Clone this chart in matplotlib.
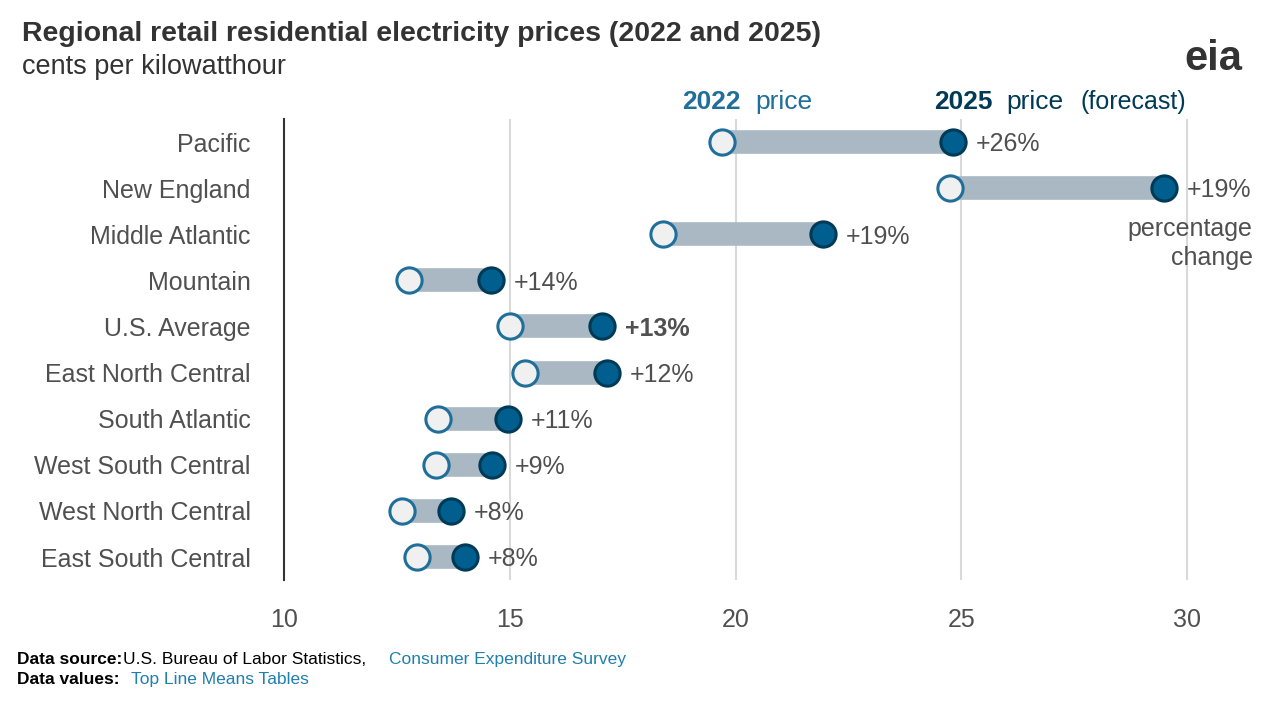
import matplotlib.pyplot as plt

regions = ["Pacific", "New England", "Middle Atlantic", "Mountain", "U.S. Average",
           "East North Central", "South Atlantic", "West South Central",
           "West North Central", "East South Central"]
price_2022 = [19.71, 24.74, 18.40, 12.77, 15.01, 15.34, 13.41, 13.37, 12.62, 12.95]
price_2025 = [24.81, 29.49, 21.93, 14.59, 17.05, 17.16, 14.97, 14.61, 13.70, 14.01]
changes = ["+26%", "+19%", "+19%", "+14%", "+13%", "+12%", "+11%", "+9%", "+8%", "+8%"]
xticks = [10, 15, 20, 25, 30]

plt.rcParams['font.family'] = ['Liberation Sans', 'DejaVu Sans']
grey = "#505050"
fig = plt.figure(figsize=(12.71, 7.04), dpi=100)
ax = fig.add_axes([0.2234, 0.176, 0.764, 0.655])

for x in xticks[1:]:
    ax.axvline(x, color="#d9d9d9", lw=1.5, zorder=0)

for i, (a, b, c) in enumerate(zip(price_2022, price_2025, changes)):
    ax.plot([a, b], [i, i], color="#a9b8c2", lw=17, solid_capstyle="butt", zorder=1)
    ax.scatter(a, i, s=330, facecolor="#f0f0f0", edgecolor="#1f6f9a", lw=2.2, zorder=3)
    ax.scatter(b, i, s=330, facecolor="#005f8f", edgecolor="#003a56", lw=2.2, zorder=3)
    ax.text(b + 0.5, i + 0.05, c, va="center", ha="left", fontsize=18, color=grey,
            fontweight="bold" if regions[i] == "U.S. Average" else "normal")

ax.set_xlim(10, 31.5)
ax.set_ylim(9.5, -0.5)
ax.set_yticks(range(len(regions)))
ax.set_yticklabels(regions, fontsize=18, color=grey)
ax.set_xticks(xticks)
ax.set_xticklabels([str(t) for t in xticks], fontsize=18, color=grey)
ax.tick_params(length=0, pad=20)
ax.tick_params(axis="y", pad=24)
for s in ["top", "right", "bottom"]:
    ax.spines[s].set_visible(False)
ax.spines["left"].set_color("#333333")
ax.spines["left"].set_linewidth(1.5)

ax.text(31.45, 2.2, "percentage\nchange", ha="right", va="center", fontsize=18,
        color=grey, linespacing=1.3)

hy = 0.845
fig.text(0.537, hy, "2022", fontsize=19, fontweight="bold", color="#1f6f9a")
fig.text(0.594, hy, "price", fontsize=19, color="#1f6f9a")
fig.text(0.735, hy, "2025", fontsize=19, fontweight="bold", color="#003a56")
fig.text(0.792, hy, "price", fontsize=19, color="#003a56")
fig.text(0.850, hy, "(forecast)", fontsize=18, color="#003a56")

fig.text(0.017, 0.942, "Regional retail residential electricity prices (2022 and 2025)",
         fontsize=20.5, fontweight="bold", color="#333333")
fig.text(0.017, 0.895, "cents per kilowatthour", fontsize=19.5, color="#333333")
fig.text(0.932, 0.900, "eia", fontsize=30, fontweight="bold", color="#333333")

fig.text(0.013, 0.057, "Data source:", fontsize=12.5, fontweight="bold", color="black")
fig.text(0.097, 0.057, "U.S. Bureau of Labor Statistics,", fontsize=12.5, color="black")
fig.text(0.306, 0.057, "Consumer Expenditure Survey", fontsize=12.5, color="#1f7fae")
fig.text(0.013, 0.029, "Data values:", fontsize=12.5, fontweight="bold", color="black")
fig.text(0.103, 0.029, "Top Line Means Tables", fontsize=12.5, color="#1f7fae")

fig.savefig("out.png", dpi=100)
